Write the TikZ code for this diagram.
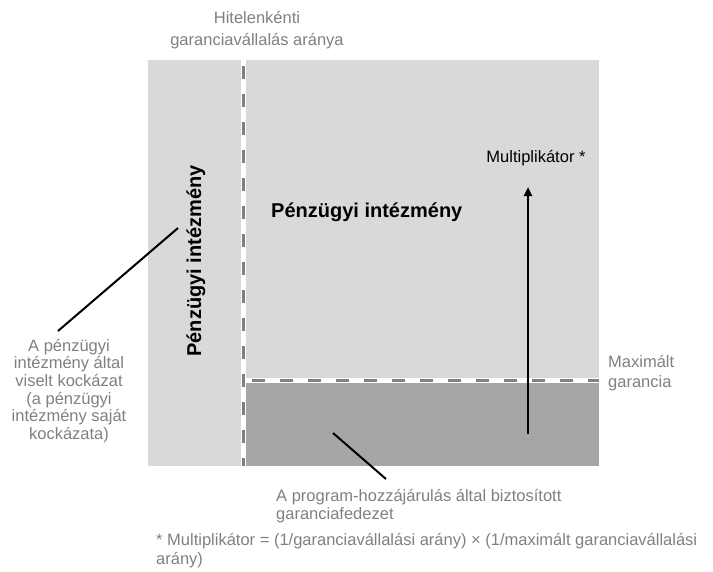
\documentclass[tikz,border=0pt]{standalone}
\usepackage{fontspec}
\setmainfont{Liberation Sans}
\usetikzlibrary{arrows.meta}
\definecolor{zonelight}{HTML}{D9D9D9}
\definecolor{zonedark}{HTML}{A6A6A6}
\definecolor{textgray}{HTML}{808080}

\begin{document}
\begin{tikzpicture}[
x=1pt, y=-1pt,
zone-light/.style={fill=zonelight},
zone-dark/.style={fill=zonedark},
split-line/.style={draw=textgray, line width=3pt, dash pattern=on 13pt off 15pt, dash phase=-6pt},
label-gray/.style={text=textgray, font=\fontsize{16.5}{17.6}\selectfont, inner sep=0pt},
label-dark/.style={text=black, font=\fontsize{16.5}{17.6}\selectfont, inner sep=0pt},
title-bold/.style={text=black, font=\fontsize{20}{24}\selectfont\bfseries, inner sep=0pt},
leader/.style={draw=black, line width=2pt},
multi-arrow/.style={draw=black, line width=2.5pt, -{Triangle[length=9pt,width=8pt]}}
]

\useasboundingbox (0,0) rectangle (713,571);

% zones
\fill[zone-light] (148,60) rectangle (241,466);
\fill[zone-light] (246,60) rectangle (599,378);
\fill[zone-dark] (246,383) rectangle (599,466);

% splits
\coordinate (vsplit-top) at (243.5,60);
\coordinate (vsplit-bottom) at (243.5,466);
\coordinate (hsplit-left) at (246,380.5);
\coordinate (hsplit-right) at (599,380.5);
\draw[split-line] (vsplit-top) -- (vsplit-bottom);
\draw[split-line] (hsplit-left) -- (hsplit-right);

\node[title-bold, anchor=west] (fi-main) at (271,212) {Pénzügyi intézmény};
\node[title-bold, rotate=90] (fi-side) at (196,261) {Pénzügyi intézmény};

\node[label-dark] (multi-lbl) at (536,158) {Multiplikátor *};
\coordinate (multi-base) at (528,434);
\coordinate (multi-top) at (528,187);
\draw[multi-arrow] (multi-base) -- (multi-top);

\node[label-gray, align=center] (ratio-lbl) at (257,30) {Hitelenkénti\\[4.4pt]garanciavállalás aránya};
\node[label-gray, align=center] (risk-lbl) at (69,391) {A pénzügyi\\intézmény által\\viselt kockázat\\(a pénzügyi\\intézmény saját\\kockázata)};
\node[label-gray, align=left, anchor=west] (cap-lbl) at (608,373) {Maximált\\[2.4pt]garancia};
\node[label-gray, align=left, anchor=west] (cover-lbl) at (276,506) {A program-hozzájárulás által biztosított\\[1pt]garanciafedezet};
\node[label-gray, align=left, anchor=west] (note-lbl) at (156,551) {* Multiplikátor = (1/garanciavállalási arány) × (1/maximált garanciavállalási\\[1.4pt]arány)};

% leaders
\coordinate (risk-start) at (58,331);
\coordinate (risk-end) at (178,228);
\draw[leader] (risk-start) -- (risk-end);
\coordinate (cover-start) at (386,479);
\coordinate (cover-end) at (333,433);
\draw[leader] (cover-start) -- (cover-end);

\end{tikzpicture}
\end{document}
